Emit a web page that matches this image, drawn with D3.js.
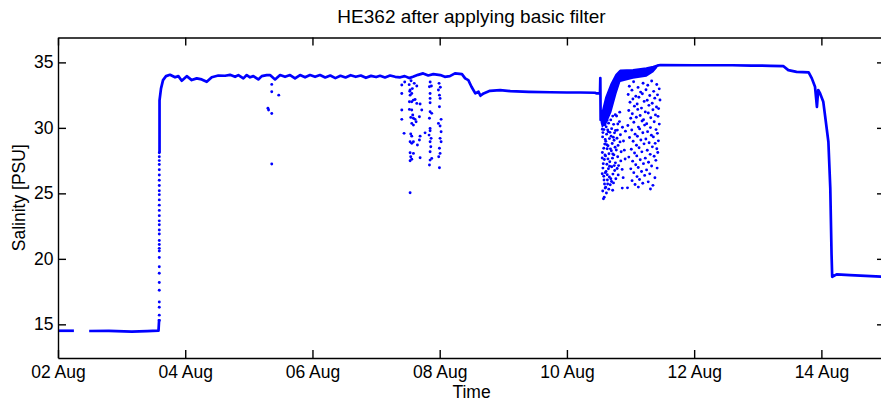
<!DOCTYPE html>
<html>
    <head>
        <meta charset="utf-8">
        <title>HE362 salinity</title>
        <script src="https://cdn.jsdelivr.net/npm/d3@7/dist/d3.min.js"></script>
        <style>
            html, body { margin: 0; padding: 0; background: #fff; overflow: hidden; }
            svg { display: block; }
            text { font-family: "Liberation Sans", Arial, sans-serif; }
        </style>
    </head>
    <body>
        <svg width="881" height="403" id="mainsvg"></svg>
        <script>
            // ---- data: [days since 02 Aug 00:00, salinity PSU] ----
            const lineA = [[0, 14.51], [0.25, 14.51]];
            const lineB = [[0.49, 14.49], [0.8, 14.5], [1.16, 14.44], [1.4, 14.48], [1.58, 14.52], [1.59, 15.4]];
            const lineC = [
                [1.596, 28.1], [1.596, 32.1], [1.619, 33.0], [1.651, 33.65], [1.698, 33.95], [1.761, 34.05],
                [1.84, 33.86], [1.892, 33.95], [1.945, 33.6], [2.024, 33.95], [2.102, 33.65], [2.181, 33.78],
                [2.259, 33.7], [2.338, 33.52], [2.417, 33.86], [2.52, 34.0], [2.626, 33.98], [2.704, 34.05],
                [2.783, 33.9], [2.835, 34.03], [2.914, 33.78], [2.967, 34.03], [3.019, 33.86], [3.071, 33.95],
                [3.149, 33.7], [3.203, 33.95], [3.281, 34.03], [3.333, 34.03], [3.412, 33.7], [3.491, 34.03],
                [3.569, 33.9], [3.648, 34.03], [3.726, 33.78], [3.805, 34.03], [3.884, 33.86], [3.962, 34.03],
                [4.041, 33.9], [4.119, 34.03], [4.2, 33.85], [4.28, 34.0], [4.36, 33.8], [4.44, 33.98],
                [4.52, 33.85], [4.6, 34.02], [4.68, 33.9], [4.76, 34.0], [4.84, 33.82], [4.92, 33.97],
                [5.0, 33.88], [5.063, 33.98], [5.14, 33.85], [5.22, 34.0], [5.3, 33.9], [5.38, 33.86],
                [5.45, 33.95], [5.52, 33.8], [5.58, 33.9], [5.66, 34.05], [5.74, 34.16], [5.82, 34.0],
                [5.9, 34.1], [6.01, 34.03], [6.08, 33.9], [6.16, 33.95], [6.24, 34.16], [6.35, 34.1],
                [6.4, 33.78], [6.45, 33.65], [6.5, 33.14], [6.56, 32.63], [6.61, 32.76], [6.64, 32.45],
                [6.69, 32.63], [6.79, 32.83], [6.95, 32.88], [7.11, 32.8], [7.4, 32.75], [7.74, 32.72],
                [8.0, 32.7], [8.21, 32.7], [8.44, 32.68], [8.47, 32.63], [8.52, 32.63], [8.525, 33.8],
                [8.53, 30.6], [8.55, 30.9], [8.62, 32.3], [8.7, 33.3], [8.78, 34.05], [8.84, 34.35],
                [9.04, 34.4], [9.25, 34.52], [9.36, 34.65], [9.42, 34.75], [9.47, 34.8], [10.0, 34.78],
                [10.6, 34.78], [10.9, 34.76], [11.2, 34.74], [11.4, 34.72], [11.48, 34.41], [11.61, 34.28],
                [11.8, 34.24], [11.85, 33.78], [11.9, 33.14], [11.93, 31.61], [11.95, 32.89], [11.98, 32.63],
                [12.03, 31.99], [12.06, 30.85], [12.11, 28.94], [12.14, 25.38], [12.16, 20.29], [12.17, 18.63],
                [12.24, 18.82], [12.45, 18.76], [13.0, 18.62]
            ];
            // dense wedge on 10-11 Aug: [day, low, high]
            const band = [
                [8.53, 30.4, 30.8], [8.55, 30.0, 31.0], [8.62, 30.3, 32.3], [8.7, 31.2, 33.3],
                [8.78, 32.6, 34.1], [8.84, 33.5, 34.35], [9.04, 33.75, 34.42], [9.25, 33.9, 34.55],
                [9.36, 34.25, 34.66], [9.42, 34.6, 34.76]
            ];
            const riseSal = [28.1, 27.8, 27.5, 27.2, 26.8, 26.4, 26.0, 25.6, 25.2, 24.9, 24.5, 24.1, 23.7,
                23.3, 22.9, 22.6, 22.2, 21.9, 21.4, 21.1, 20.8, 20.6, 20.1, 19.4, 18.9, 18.2, 17.6, 16.7,
                16.3, 15.7, 15.3];
            const riseDay = 1.592;
            const aug5Dots = [[3.36, 33.32], [3.36, 32.76], [3.47, 32.5], [3.3, 31.5], [3.31, 31.36],
                [3.36, 31.1], [3.36, 27.24]];
            const aug7Dots = [
                [5.404, 33.27], [5.404, 32.63], [5.404, 31.36], [5.404, 30.65], [5.44, 29.58], [5.535, 32.89],
                [5.535, 32.5], [5.561, 32.63], [5.524, 31.99], [5.561, 31.99], [5.587, 32.12], [5.613, 32.17],
                [5.64, 31.87], [5.692, 31.82], [5.524, 31.41], [5.561, 31.36], [5.576, 30.98], [5.545, 30.8],
                [5.587, 30.73], [5.613, 30.65], [5.629, 30.47], [5.561, 30.34], [5.587, 30.21], [5.718, 31.36],
                [5.681, 30.85], [5.77, 29.62], [5.545, 29.53], [5.561, 29.37], [5.535, 28.94], [5.561, 28.82],
                [5.587, 28.94], [5.65, 28.69], [5.692, 29.37], [5.681, 29.07], [5.535, 28.1], [5.587, 28.05],
                [5.545, 27.79], [5.561, 27.6], [5.535, 27.49], [5.692, 27.72], [5.535, 25.05],
                [5.839, 33.14], [5.849, 32.63], [5.849, 32.25], [5.849, 31.92], [5.849, 31.23], [5.875, 31.11],
                [5.839, 30.73], [5.849, 29.96], [5.849, 29.78], [5.833, 29.45], [5.865, 29.2], [5.849, 28.94],
                [5.86, 28.56], [5.849, 28.18], [5.875, 27.67], [5.849, 27.54], [5.839, 27.16],
                [5.98, 32.89], [5.996, 32.5], [6.006, 32.25], [5.996, 31.61], [6.022, 30.65], [5.98, 30.34],
                [6.006, 30.14], [6.022, 29.7], [6.006, 29.2], [6.022, 28.94], [5.996, 28.44], [6.006, 28.05],
                [5.985, 27.79], [5.996, 26.95],
                [5.45, 33.5], [5.52, 33.3], [5.55, 33.6], [5.6, 33.4], [5.64, 33.2], [5.85, 33.5],
                [5.87, 33.2], [5.99, 33.4], [6.01, 33.1], [5.57, 33.0], [5.53, 32.8]
            ];
            // 10-11 Aug scatter, left dense column
            const cloudLeft = [
                [8.552, 31.1], [8.571, 30.42], [8.583, 29.87], [8.561, 29.31], [8.594, 28.76], [8.557, 28.12],
                [8.588, 27.58], [8.566, 26.93], [8.579, 26.31], [8.591, 25.72], [8.563, 25.18], [8.586, 24.71],
                [8.574, 24.58], [8.603, 30.77], [8.617, 30.08], [8.624, 29.52], [8.611, 28.97], [8.632, 28.41],
                [8.607, 27.86], [8.628, 27.22], [8.615, 26.67], [8.636, 26.02], [8.609, 25.47], [8.621, 25.03],
                [8.642, 31.02], [8.655, 30.36], [8.649, 29.71], [8.668, 29.18], [8.646, 28.63], [8.661, 28.02],
                [8.674, 27.41], [8.652, 26.88], [8.667, 26.25], [8.681, 25.66], [8.658, 25.32], [8.689, 30.61],
                [8.703, 29.94], [8.694, 29.37], [8.712, 28.81], [8.698, 28.25], [8.716, 27.69], [8.705, 27.03],
                [8.723, 26.47], [8.701, 25.91], [8.719, 25.24], [8.734, 30.27], [8.748, 29.62], [8.741, 29.05],
                [8.757, 28.52], [8.738, 27.94], [8.762, 27.33], [8.751, 26.74], [8.769, 26.12], [8.781, 30.91],
                [8.793, 29.83], [8.787, 29.21], [8.804, 28.66], [8.798, 27.79], [8.812, 27.12], [8.806, 26.41],
                [8.826, 30.48], [8.841, 29.47], [8.835, 28.93], [8.852, 28.18], [8.847, 27.48], [8.868, 26.83],
                [8.873, 30.05], [8.889, 29.0], [8.902, 28.3], [8.915, 27.62], [8.884, 26.2], [8.87, 25.4],
                [8.92, 29.75], [8.577, 30.95], [8.598, 30.23], [8.566, 29.64], [8.602, 29.11], [8.579, 28.45],
                [8.598, 27.93], [8.571, 27.27], [8.603, 26.58], [8.583, 26.02], [8.601, 25.4], [8.63, 30.58],
                [8.641, 29.84], [8.626, 28.71], [8.645, 27.63], [8.633, 26.42], [8.64, 25.72], [8.676, 29.66],
                [8.684, 28.4], [8.671, 27.07], [8.69, 26.11], [8.729, 29.28], [8.721, 28.01], [8.744, 27.12],
                [8.732, 25.8], [8.776, 28.31], [8.764, 29.8], [8.79, 26.9], [8.555, 27.7], [8.555, 26.5],
                [8.557, 29.9], [8.616, 31.35], [8.66, 31.3], [8.72, 30.9], [8.76, 31.0], [8.8, 30.3], [8.83, 31.2]
            ];
            // 10-11 Aug scatter, right sparse column
            const cloudRight = [
                [9.048, 33.52], [9.197, 33.41], [9.332, 33.58], [9.412, 33.31], [8.981, 33.18], [9.118, 33.09],
                [9.271, 33.26], [9.451, 32.98], [9.022, 32.88], [9.158, 32.73], [9.243, 32.91], [9.364, 32.79],
                [8.963, 32.55], [9.083, 32.41], [9.186, 32.6], [9.302, 32.47], [9.424, 32.52], [9.037, 32.2],
                [9.131, 32.34], [9.262, 32.11], [9.381, 32.27], [8.992, 31.96], [9.104, 31.82], [9.214, 32.02],
                [9.341, 31.88], [9.463, 32.13], [9.061, 31.66], [9.172, 31.51], [9.289, 31.72], [9.408, 31.59],
                [8.972, 31.33], [9.113, 31.41], [9.232, 31.22], [9.352, 31.38], [9.441, 31.47], [9.028, 31.08],
                [9.151, 30.94], [9.279, 31.13], [9.392, 30.99], [9.003, 30.73], [9.091, 30.81], [9.204, 30.62],
                [9.318, 30.77], [9.432, 30.88], [9.052, 30.43], [9.181, 30.52], [9.254, 30.31], [9.372, 30.47],
                [8.958, 30.18], [9.124, 30.06], [9.221, 30.21], [9.313, 30.02], [9.452, 30.29], [9.019, 29.84],
                [9.143, 29.92], [9.268, 29.71], [9.401, 29.87], [9.072, 29.52], [9.193, 29.63], [9.328, 29.44],
                [9.422, 29.58], [8.984, 29.27], [9.108, 29.36], [9.241, 29.15], [9.359, 29.31], [9.041, 28.98],
                [9.162, 29.07], [9.292, 28.86], [9.438, 29.01], [9.093, 28.67], [9.212, 28.78], [9.343, 28.55],
                [9.387, 28.82], [9.012, 28.37], [9.134, 28.48], [9.263, 28.29], [9.413, 28.41], [9.063, 28.08],
                [9.178, 28.17], [9.309, 27.98], [9.428, 28.12], [8.973, 27.77], [9.098, 27.86], [9.232, 27.69],
                [9.371, 27.83], [9.033, 27.46], [9.152, 27.57], [9.283, 27.38], [9.398, 27.52], [9.082, 27.18],
                [9.203, 27.27], [9.331, 27.09], [9.004, 26.87], [9.121, 26.98], [9.252, 26.79], [9.418, 26.93],
                [9.051, 26.58], [9.173, 26.67], [9.302, 26.49], [9.102, 26.28], [9.222, 26.37], [9.383, 26.19],
                [9.024, 25.97], [9.141, 26.06], [9.278, 25.88], [9.071, 25.68], [9.192, 25.77], [9.352, 25.61],
                [8.952, 25.42], [9.123, 25.48], [9.313, 25.33]
            ];
            const tickDays = [0, 2, 4, 6, 8, 10, 12];
            const yTicks = [15, 20, 25, 30, 35];
            const startDate = Date.UTC(2013, 7, 2);
            const dayMs = 864e5;

            const titleText = "HE362 after applying basic filter";
            const xLabel = "Time";
            const yLabel = "Salinity [PSU]";

            // ---- layout ----
            const svg = d3.select("#mainsvg");
            const margin = {top: 37.5, left: 58};
            const innerWidth = 827, innerHeight = 320.5;
            const blue = "#0000ff";
            const fontSize = "17.5px";

            const toDate = d => new Date(startDate + d * dayMs);
            const xScale = d3.scaleUtc()
                .domain([toDate(0), toDate(13)])
                .range([0, innerWidth]);
            const yScale = d3.scaleLinear()
                .domain([12.43, 36.9])
                .range([innerHeight, 0]);

            const g = svg.append("g")
                .attr("transform", `translate(${margin.left}, ${margin.top})`);

            g.append("clipPath").attr("id", "clip")
                .append("rect").attr("width", innerWidth).attr("height", innerHeight);

            const plot = g.append("g").attr("clip-path", "url(#clip)");

            // dense band
            plot.append("path")
                .datum(band)
                .attr("fill", blue)
                .attr("d", d3.area()
                    .x(d => xScale(toDate(d[0])))
                    .y0(d => yScale(d[1]))
                    .y1(d => yScale(d[2])));

            const line = d3.line()
                .x(d => xScale(toDate(d[0])))
                .y(d => yScale(d[1]));

            plot.selectAll(".seg")
                .data([lineA, lineB, lineC])
                .enter().append("path")
                .attr("class", "seg")
                .attr("fill", "none")
                .attr("stroke", blue)
                .attr("stroke-width", 2.7)
                .attr("stroke-linejoin", "round")
                .attr("d", line);

            const dots = riseSal.map(s => [riseDay, s]).concat(aug5Dots, aug7Dots, cloudLeft, cloudRight);
            plot.selectAll(".dot")
                .data(dots)
                .enter().append("circle")
                .attr("class", "dot")
                .attr("cx", d => xScale(toDate(d[0])))
                .attr("cy", d => yScale(d[1]))
                .attr("r", 1.45)
                .attr("fill", blue);

            // ---- axes (box with inward ticks) ----
            const fmt = d3.utcFormat("%d %b");
            const tickDates = tickDays.map(toDate);

            const styleAxis = sel => {
                sel.selectAll("path, line").attr("stroke", "#000").attr("stroke-width", 1.4);
                sel.selectAll("text").attr("fill", "#000").attr("font-size", fontSize)
                    .attr("font-family", "'Liberation Sans', Arial, sans-serif");
            };

            g.append("g")
                .attr("transform", `translate(0, ${innerHeight})`)
                .call(d3.axisBottom(xScale).tickValues(tickDates).tickFormat(fmt)
                    .tickSizeInner(-8).tickSizeOuter(0).tickPadding(8))
                .call(styleAxis);

            g.append("g")
                .call(d3.axisTop(xScale).tickValues(tickDates)
                    .tickSizeInner(-8).tickSizeOuter(0))
                .call(styleAxis)
                .call(a => a.selectAll("text").remove());

            g.append("g")
                .call(d3.axisLeft(yScale).tickValues(yTicks)
                    .tickSizeInner(-8).tickSizeOuter(0).tickPadding(4.5))
                .call(styleAxis);

            g.append("g")
                .attr("transform", `translate(${innerWidth}, 0)`)
                .call(d3.axisRight(yScale).tickValues(yTicks)
                    .tickSizeInner(-8).tickSizeOuter(0))
                .call(styleAxis)
                .call(a => a.selectAll("text").remove());

            // ---- labels ----
            svg.append("text")
                .attr("x", margin.left + innerWidth / 2)
                .attr("y", 23)
                .attr("text-anchor", "middle")
                .attr("font-size", "19px")
                .text(titleText);

            svg.append("text")
                .attr("x", margin.left + innerWidth / 2)
                .attr("y", 398)
                .attr("text-anchor", "middle")
                .attr("font-size", fontSize)
                .text(xLabel);

            svg.append("text")
                .attr("transform", `translate(25, ${margin.top + innerHeight / 2}) rotate(-90)`)
                .attr("text-anchor", "middle")
                .attr("font-size", fontSize)
                .text(yLabel);
        </script>
    </body>
</html>
